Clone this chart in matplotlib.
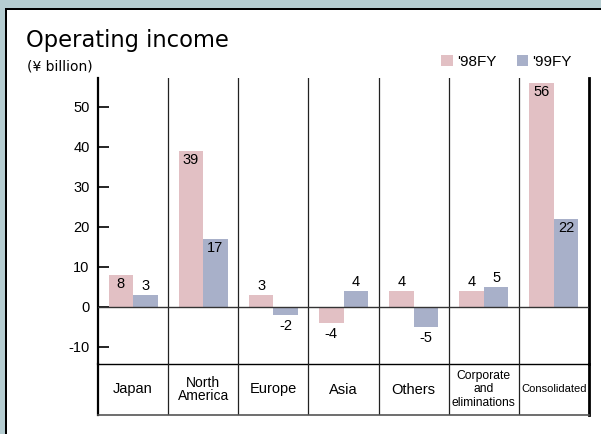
import numpy as np
import matplotlib.pyplot as plt
from matplotlib.patches import Rectangle

# operating income by segment, ¥ billion
regions = ["Japan", "North\nAmerica", "Europe", "Asia", "Others",
           "Corporate\nand\neliminations", "Consolidated"]
fy98 = [8, 39, 3, -4, 4, 4, 56]
fy99 = [3, 17, -2, 4, -5, 5, 22]
series_names = ["'98FY", "'99FY"]
yticks = [-10, 0, 10, 20, 30, 40, 50]

pink = "#e2c0c4"
blue = "#a8b0c9"
band = "#b5cdd1"
W, H = 601, 434

fig = plt.figure(figsize=(W / 100, H / 100), dpi=100)
fig.patch.set_facecolor("white")

# frame: tinted band on top/left with a black rule inside it
fig.add_artist(Rectangle((0, 1 - 8 / H), 1, 8 / H, transform=fig.transFigure,
                         facecolor=band, edgecolor="none"))
fig.add_artist(Rectangle((0, 0), 5 / W, 1, transform=fig.transFigure,
                         facecolor=band, edgecolor="none"))
fig.add_artist(Rectangle((5 / W, 1 - 10 / H), 1, 2 / H, transform=fig.transFigure,
                         facecolor="black", edgecolor="none"))
fig.add_artist(Rectangle((5 / W, 0), 2 / W, 1 - 8 / H, transform=fig.transFigure,
                         facecolor="black", edgecolor="none"))

left, right = 98 / W, 589 / W
ax = fig.add_axes([left, (H - 364) / H, right - left, (364 - 78) / H])
lab = fig.add_axes([left, (H - 415) / H, right - left, (415 - 364) / H])

x = np.arange(len(regions))
w = 0.35
ax.bar(x - w / 2, fy98, w, color=pink, label=series_names[0], zorder=2)
ax.bar(x + w / 2, fy99, w, color=blue, label=series_names[1], zorder=2)

ax.set_xlim(-0.5, len(regions) - 0.5)
ax.set_ylim(-14.3, 57.2)
ax.set_xticks([])
ax.set_yticks(yticks)
ax.set_yticklabels([str(t) for t in yticks], family="Liberation Sans")
ax.tick_params(axis="y", direction="in", length=8, width=1.2, pad=6, labelsize=10.5)
ax.axhline(0, color="#333333", lw=1.0, zorder=3)

for a in (ax, lab):
    a.set_facecolor("none")
    for s in ("top", "bottom"):
        a.spines[s].set_visible(False)
    a.spines["left"].set_linewidth(1.6)
    a.spines["right"].set_linewidth(2.0)
    for i in range(len(regions) - 1):
        a.axvline(i + 0.5, color="#222222", lw=0.9, zorder=1)

ax.spines["bottom"].set_visible(True)
ax.spines["bottom"].set_linewidth(1.0)
lab.spines["bottom"].set_visible(True)
lab.spines["bottom"].set_color("#555555")
lab.spines["bottom"].set_linewidth(1.2)

# value labels: inside the top of tall bars, outside for short ones
for xs, vals in ((x - w / 2, fy98), (x + w / 2, fy99)):
    for xi, v in zip(xs, vals):
        if v >= 8:
            dy = -6.5
        elif v >= 0:
            dy = 6
        else:
            dy = -8
        ax.annotate(str(v), (xi, v), xytext=(0, dy), textcoords="offset points",
                    ha="center", va="center", fontsize=10.5,
                    family="Liberation Sans", zorder=4)

# category row under the chart
lab.set_xlim(-0.5, len(regions) - 0.5)
lab.set_ylim(0, 1)
lab.set_xticks([])
lab.set_yticks([])
sizes = [10.5, 10, 10.5, 10.5, 10.5, 8.7, 8]
spacing = [1, 0.85, 1, 1, 1, 1.15, 1]
for xi, name, fs, ls in zip(x, regions, sizes, spacing):
    lab.text(xi, 0.5, name, ha="center", va="center", fontsize=fs,
             linespacing=ls, family="Liberation Sans")

fig.text(26 / W, 1 - 47 / H, "Operating income", fontsize=16.3,
         family="DejaVu Sans", va="baseline")
fig.text(27 / W, 1 - 66.5 / H, "(¥ billion)", fontsize=10,
         family="DejaVu Sans", va="center")

ax.legend(loc="center right", bbox_to_anchor=(572 / W, 1 - 61.5 / H),
          bbox_transform=fig.transFigure, ncol=2, frameon=False,
          prop={"family": "Liberation Sans", "size": 11},
          handlelength=0.75, handleheight=0.75, handletextpad=0.3,
          columnspacing=1.3, borderpad=0, borderaxespad=0)

fig.savefig("out.png", dpi=100)
